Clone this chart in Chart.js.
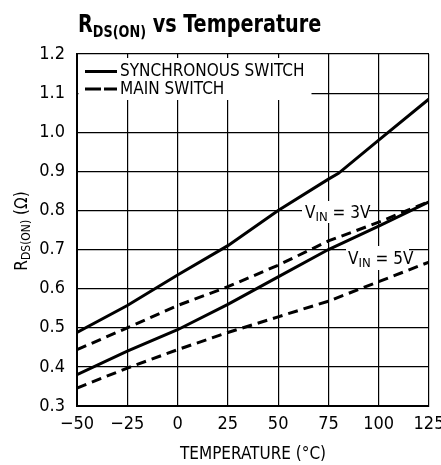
<!DOCTYPE html>
<html>
<head>
<meta charset="utf-8">
<script src="https://cdn.jsdelivr.net/npm/chart.js@4.4.1/dist/chart.umd.min.js"></script>
<style>
  html, body { margin: 0; padding: 0; background: #fff; }
  #wrap { width: 441px; height: 465px; position: relative; }
</style>
</head>
<body>
<div id="wrap"><canvas id="chart"></canvas></div>
<script>
const FONT = "'Liberation Sans Narrow', 'DejaVu Sans Condensed', 'Arial Narrow', sans-serif";

// temperatures (°C)
const temps = [-50, -25, 0, 25, 50, 75, 100, 125];
const tempsSync3 = [-50, -25, 0, 25, 50, 75, 80, 100, 125];

// RDS(ON) in ohms
const sync3V = [0.488, 0.557, 0.635, 0.71, 0.80, 0.88, 0.895, 0.98, 1.085];
const main3V = [0.444, 0.50, 0.557, 0.605, 0.66, 0.722, 0.77, 0.823];
const sync5V = [0.38, 0.44, 0.495, 0.56, 0.63, 0.70, 0.76, 0.822];
const main5V = [0.346, 0.397, 0.444, 0.488, 0.528, 0.568, 0.618, 0.668];

const xTicks = [-50, -25, 0, 25, 50, 75, 100, 125];
const yTicks = [0.3, 0.4, 0.5, 0.6, 0.7, 0.8, 0.9, 1.0, 1.1, 1.2];

function pts(xs, ys) {
  return xs.map((x, i) => ({ x: x, y: ys[i] }));
}

function line(label, xs, ys, dashed) {
  return {
    label: label,
    data: pts(xs, ys),
    borderColor: "#000",
    borderWidth: 3,
    borderDash: dashed ? [10, 6] : [],
    pointRadius: 0,
    tension: 0,
    fill: false
  };
}

// draws text with a subscript part: [[text, size, dy], ...]
function drawRich(ctx, parts, x, y, weight) {
  let cx = x;
  parts.forEach(p => {
    ctx.font = weight + " " + p[1] + "px " + FONT;
    ctx.fillText(p[0], cx, y + p[2]);
    cx += ctx.measureText(p[0]).width;
  });
  return cx - x;
}

function richWidth(ctx, parts, weight) {
  let w = 0;
  parts.forEach(p => {
    ctx.font = weight + " " + p[1] + "px " + FONT;
    w += ctx.measureText(p[0]).width;
  });
  return w;
}

const decor = {
  id: "decor",
  beforeDatasetsDraw(chart) {
    const ctx = chart.ctx;
    const a = chart.chartArea;
    ctx.save();
    // white boxes that break the grid
    ctx.fillStyle = "#fff";
    ctx.fillRect(a.left + 1.5, 58, 310 - a.left, 42);
    ctx.fillRect(302, 201, 67, 22);
    ctx.fillRect(346, 246, 63, 24);

    ctx.fillStyle = "#000";
    ctx.strokeStyle = "#000";
    ctx.textBaseline = "middle";
    ctx.textAlign = "left";

    // legend
    ctx.lineWidth = 3;
    ctx.beginPath();
    ctx.moveTo(85, 71.5); ctx.lineTo(117, 71.5);
    ctx.moveTo(85, 89); ctx.lineTo(101, 89);
    ctx.moveTo(104, 89); ctx.lineTo(117, 89);
    ctx.stroke();
    ctx.font = "17px " + FONT;
    ctx.fillText("SYNCHRONOUS SWITCH", 120, 72);
    ctx.fillText("MAIN SWITCH", 120, 89.5);

    // VIN labels
    ctx.textBaseline = "alphabetic";
    drawRich(ctx, [["V", 17, 0], ["IN", 13, 3], [" = 3V", 17, 0]], 305, 218, "");
    drawRich(ctx, [["V", 17, 0], ["IN", 13, 3], [" = 5V", 17, 0]], 348, 264, "");
    ctx.restore();
  },
  afterDraw(chart) {
    const ctx = chart.ctx;
    const a = chart.chartArea;
    ctx.save();
    ctx.fillStyle = "#000";
    ctx.textBaseline = "alphabetic";
    ctx.textAlign = "left";
    // title, squeezed a little to look condensed
    ctx.save();
    ctx.translate(78, 32);
    ctx.scale(0.89, 1);
    drawRich(ctx, [["R", 24, 0], ["DS(ON)", 16, 5], [" vs Temperature", 24, 0]], 0, 0, "bold");
    ctx.restore();

    // x axis title
    ctx.textAlign = "center";
    ctx.font = "17px " + FONT;
    ctx.fillText("TEMPERATURE (\u00B0C)", (a.left + a.right) / 2, 459);
    ctx.textAlign = "left";

    // y axis title, rotated
    const yParts = [["R", 17, 0], ["DS(ON)", 12, 3], [" (\u03A9)", 17, 0]];
    const w = richWidth(ctx, yParts, "");
    ctx.translate(27, 231);
    ctx.rotate(-Math.PI / 2);
    drawRich(ctx, yParts, -w / 2, 0, "");
    ctx.restore();
  }
};

new Chart(document.getElementById("chart"), {
  type: "line",
  data: {
    datasets: [
      line("SYNCHRONOUS SWITCH 3V", tempsSync3, sync3V, false),
      line("MAIN SWITCH 3V", temps, main3V, true),
      line("SYNCHRONOUS SWITCH 5V", temps, sync5V, false),
      line("MAIN SWITCH 5V", temps, main5V, true)
    ]
  },
  options: {
    responsive: true,
    maintainAspectRatio: false,
    animation: false,
    layout: { padding: { top: 54, right: 12, left: 0, bottom: 0 } },
    plugins: {
      legend: { display: false },
      tooltip: { enabled: false }
    },
    scales: {
      x: {
        type: "linear",
        min: -50,
        max: 125,
        afterBuildTicks: s => { s.ticks = xTicks.map(v => ({ value: v })); },
        afterFit: s => { s.height = 59; s.paddingLeft = 0; s.paddingRight = 0; },
        ticks: {
          color: "#000",
          font: { family: FONT, size: 18 },
          padding: 8,
          maxRotation: 0,
          callback: v => (v < 0 ? "\u2212" + Math.abs(v) : String(v))
        },
        grid: { color: "#000", lineWidth: 1.2, drawTicks: false },
        border: { color: "#000", width: 2 }
      },
      y: {
        min: 0.3,
        max: 1.2,
        afterBuildTicks: s => { s.ticks = yTicks.map(v => ({ value: v })); },
        afterFit: s => { s.width = 77; s.paddingTop = 0; s.paddingBottom = 0; },
        ticks: {
          color: "#000",
          font: { family: FONT, size: 18 },
          padding: 12,
          callback: v => v.toFixed(1)
        },
        grid: { color: "#000", lineWidth: 1.2, drawTicks: false },
        border: { color: "#000", width: 2 }
      }
    }
  },
  plugins: [decor]
});
</script>
</body>
</html>
